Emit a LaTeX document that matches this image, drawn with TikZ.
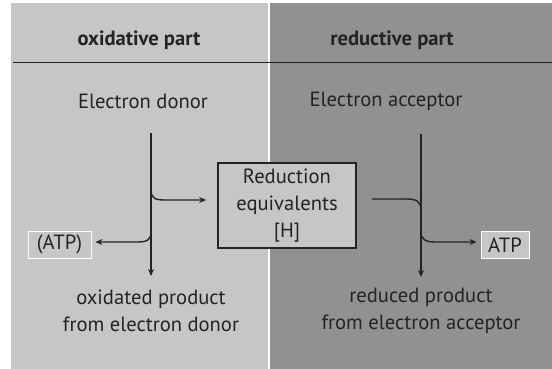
\documentclass[tikz,border=0pt]{standalone}
\usepackage{fontspec}
\setmainfont{PT Sans}
\usetikzlibrary{arrows.meta}
\definecolor{leftbg}{RGB}{198,198,198}
\definecolor{rightbg}{RGB}{145,145,145}
\definecolor{ink}{RGB}{35,35,35}
\tikzset{
  lbl/.style={text=ink, font=\fontsize{20.6}{27}\selectfont, align=center, inner sep=0pt},
  ttl/.style={lbl, font=\fontsize{20.6}{27}\selectfont\bfseries},
  flow/.style={draw=ink, line width=1.4pt, -{Stealth[length=7pt,width=6pt]}},
  plain/.style={draw=ink, line width=1.4pt},
  atpbox/.style={lbl, draw=white, line width=1pt, fill=leftbg, inner xsep=3pt, inner ysep=0pt, minimum height=27pt},
}
\begin{document}
\begin{tikzpicture}[x=1pt,y=-1pt]
\useasboundingbox (0,0) rectangle (552,369);
\fill[white] (0,0) rectangle (552,369);
\fill[leftbg] (11,3) rectangle (268,369);
\fill[rightbg] (270,3) rectangle (552,369);
\draw[ink, line width=0.8pt] (13,62) -- (552,62);
\node[ttl] (tl) at (139,40) {oxidative part};
\node[ttl] (tr) at (392,40) {reductive part};
\node[lbl] (don) at (143,101) {Electron donor};
\node[lbl] (acc) at (386,101) {Electron acceptor};
\node[lbl] (oxp) at (151,311) {oxidated product\\from electron donor};
\node[lbl] (redp) at (421,311) {reduced product\\from electron acceptor};
\node[lbl, draw=ink, line width=1.6pt, fill=leftbg, minimum width=138pt, minimum height=85pt] (red) at (287,205.5) {Reduction\\equivalents\\{[H]}};
\node[atpbox, minimum width=63pt] (atpl) at (59.5,244.5) {(ATP)};
\node[atpbox, minimum width=48pt] (atpr) at (505,245) {ATP};
% helper coordinates
\coordinate (hl) at (0,200);
\coordinate (al) at (0,242);
% left flows
\coordinate (lt) at (151,133);
\coordinate (lb) at (151,276);
\draw[flow] (lt) -- (lb);
\draw[flow, shorten >=11pt] (151,190) .. controls (151,199) and (156,200) .. (166,200) -- (red.west |- hl);
\draw[flow, shorten >=4pt] (151,232) .. controls (151,241) and (146,242) .. (136,242) -- (atpl.east |- al);
% right flows
\coordinate (rt) at (421,134);
\coordinate (rb) at (421,277);
\draw[flow] (rt) -- (rb);
\draw[plain] (372,199) -- (406,199) .. controls (416,199) and (421,201) .. (421,210);
\draw[flow, shorten >=4pt] (421,232) .. controls (421,240) and (426,242) .. (436,242) -- (atpr.west |- al);
\end{tikzpicture}
\end{document}
